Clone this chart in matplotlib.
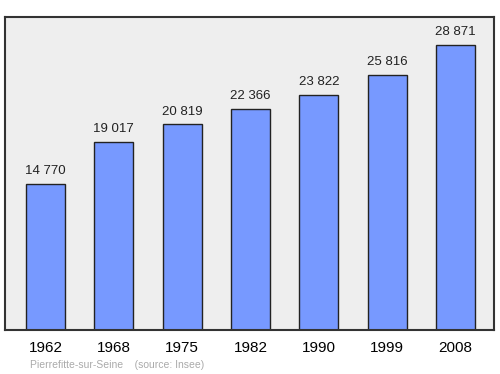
import numpy as np
import matplotlib.pyplot as plt

plt.rcParams['font.family'] = ['Liberation Sans', 'DejaVu Sans']

years = ["1962", "1968", "1975", "1982", "1990", "1999", "2008"]
population = [14770, 19017, 20819, 22366, 23822, 25816, 28871]
labels = ["14 770", "19 017", "20 819", "22 366", "23 822", "25 816", "28 871"]

fig = plt.figure(figsize=(5, 3.74), dpi=100)
ax = fig.add_axes([0.01, 0.1176, 0.978, 0.837])
ax.set_facecolor("#eeeeee")

x = np.arange(len(years))
ax.bar(x, population, width=0.571, color="#7799ff", edgecolor="#222222",
       linewidth=1, zorder=2)

for xi, v, lab in zip(x, population, labels):
    ax.text(xi, v + 700, lab, ha="center", va="bottom", fontsize=9.5,
            color="#222222")

ax.set_xlim(-0.593, 6.564)
ax.set_ylim(0, 31700)
ax.set_yticks([])
ax.set_xticks(x)
ax.set_xticklabels(years, fontsize=11)
ax.tick_params(axis="x", length=0, pad=8)
for s in ax.spines.values():
    s.set_linewidth(1.5)
    s.set_color("#333333")

fig.text(0.06, 0.016, "Pierrefitte-sur-Seine    (source: Insee)",
         fontsize=7.5, color="#aaaaaa")

fig.savefig("out.png", dpi=100)
